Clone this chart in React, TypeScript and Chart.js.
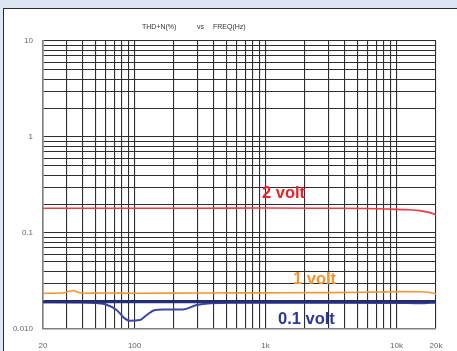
import React, { useEffect, useRef } from "react";
import { Chart, registerables } from "chart.js";

Chart.register(...registerables);

// ---- data ----
const X_TICKS = [20, 30, 40, 50, 60, 70, 80, 90, 100, 200, 300, 400, 500, 600, 700, 800, 900, 1000, 2000, 3000, 4000, 5000, 6000, 7000, 8000, 9000, 10000, 20000];
const X_LABEL_VALUES = [20, 100, 1000, 10000, 20000];
const X_LABEL_TEXT = ["20", "100", "1k", "10k", "20k"];

const Y_TICKS = [0.01, 0.02, 0.03, 0.04, 0.05, 0.06, 0.07, 0.08, 0.09, 0.1, 0.2, 0.3, 0.4, 0.5, 0.6, 0.7, 0.8, 0.9, 1, 2, 3, 4, 5, 6, 7, 8, 9, 10];
const Y_LABEL_VALUES = [0.01, 0.1, 1, 10];
const Y_LABEL_TEXT = ["0.010", "0.1", "1", "10"];

const RED_FREQ = [20, 50, 100, 300, 1000, 3000, 6000, 8400, 12000, 15000, 18000, 20000];
const RED_VAL = [0.181, 0.181, 0.181, 0.181, 0.182, 0.181, 0.18, 0.178, 0.175, 0.171, 0.163, 0.155];

const ORANGE_FREQ = [20, 28, 31, 34, 37, 42, 60, 100, 300, 1000, 3000, 6000, 10000, 15000, 18000, 20000];
const ORANGE_VAL = [0.0236, 0.0237, 0.0244, 0.0252, 0.0241, 0.0236, 0.0237, 0.0236, 0.0237, 0.0238, 0.0239, 0.0242, 0.0245, 0.0244, 0.024, 0.0233];

const NAVY_FREQ = [20, 20000];
const NAVY_VAL = [0.0191, 0.0191];

const BLUE_FREQ = [20, 40, 51, 61, 73, 84, 92, 110, 124, 143, 165, 234, 298, 535, 1000, 3000, 10000, 15000, 20000];
const BLUE_VAL = [0.019, 0.0189, 0.0186, 0.0179, 0.0158, 0.0129, 0.0122, 0.0124, 0.014, 0.0158, 0.016, 0.016, 0.0178, 0.0188, 0.0188, 0.0188, 0.0187, 0.0185, 0.0189];

const NOTE_TEXT = ["2 volt", "1 volt", "0.1 volt"];
const NOTE_FREQ = [939, 1620, 1244];
const NOTE_VAL = [0.26, 0.0332, 0.0127];
const NOTE_COLOR = ["#e8232d", "#f5922c", "#2c3895"];

const FONT = "'Liberation Sans', Arial, sans-serif";

const pts = (xs: number[], ys: number[]) => xs.map((x, i) => ({ x, y: ys[i] }));
const near = (a: number, b: number) => Math.abs(a - b) / b < 1e-6;

const framePlugin = {
  id: "frame",
  beforeDraw(chart: any) {
    const ctx = chart.ctx;
    ctx.save();
    ctx.fillStyle = "#ffffff";
    ctx.fillRect(0, 0, chart.width, chart.height);
    ctx.fillStyle = "#dce6f4";
    ctx.fillRect(0, 0, chart.width, 8);
    ctx.fillRect(0, 0, 3, chart.height);
    ctx.strokeStyle = "#2a2a2a";
    ctx.lineWidth = 1;
    ctx.beginPath();
    ctx.moveTo(3, 8.5);
    ctx.lineTo(chart.width, 8.5);
    ctx.moveTo(3.5, 8);
    ctx.lineTo(3.5, chart.height);
    ctx.stroke();
    ctx.restore();
  },
  afterDraw(chart: any) {
    const ctx = chart.ctx;
    const { left } = chart.chartArea;
    ctx.save();
    ctx.fillStyle = "#333";
    ctx.font = `7px ${FONT}`;
    ctx.textBaseline = "middle";
    ctx.textAlign = "left";
    ctx.fillText("THD+N(%)", left + 99, 27);
    ctx.fillText("vs", left + 154, 27);
    ctx.fillText("FREQ(Hz)", left + 170, 27);
    const xs = chart.scales.x;
    const ys = chart.scales.y;
    ctx.font = `bold 16.5px ${FONT}`;
    NOTE_TEXT.forEach((t, i) => {
      ctx.fillStyle = NOTE_COLOR[i];
      ctx.fillText(t, xs.getPixelForValue(NOTE_FREQ[i]), ys.getPixelForValue(NOTE_VAL[i]));
    });
    ctx.restore();
  },
};

export default function App() {
  const ref = useRef<HTMLCanvasElement | null>(null);
  useEffect(() => {
    if (!ref.current) return;
    const gridColor = "#2e2e2e";
    const chart = new Chart(ref.current, {
      type: "line",
      data: {
        datasets: [
          { data: pts(RED_FREQ, RED_VAL), borderColor: "#ee3a44", borderWidth: 1.6, pointRadius: 0, cubicInterpolationMode: "monotone" },
          { data: pts(ORANGE_FREQ, ORANGE_VAL), borderColor: "#f7962f", borderWidth: 1.6, pointRadius: 0, cubicInterpolationMode: "monotone" },
          { data: pts(NAVY_FREQ, NAVY_VAL), borderColor: "#232d88", borderWidth: 2.4, pointRadius: 0 },
          { data: pts(BLUE_FREQ, BLUE_VAL), borderColor: "#3b47a2", borderWidth: 2, pointRadius: 0, cubicInterpolationMode: "monotone" },
        ],
      },
      options: {
        animation: false,
        responsive: false,
        layout: { padding: { left: 0, right: 21, top: 41, bottom: 0 } },
        plugins: { legend: { display: false }, title: { display: false }, tooltip: { enabled: false } },
        scales: {
          x: {
            type: "logarithmic",
            min: 20,
            max: 20000,
            afterBuildTicks: (s: any) => {
              s.ticks = X_TICKS.map((v) => ({ value: v }));
            },
            afterFit: (s: any) => {
              s.height = 22;
            },
            ticks: {
              autoSkip: false,
              maxRotation: 0,
              padding: 12,
              color: "#666",
              font: { family: FONT, size: 8 },
              callback: (v: any) => {
                const i = X_LABEL_VALUES.findIndex((l) => near(Number(v), l));
                return i >= 0 ? X_LABEL_TEXT[i] : "";
              },
            },
            grid: { color: gridColor, lineWidth: 1.1, drawTicks: false },
            border: { color: "#808080", width: 1.6 },
          },
          y: {
            type: "logarithmic",
            min: 0.01,
            max: 10,
            afterBuildTicks: (s: any) => {
              s.ticks = Y_TICKS.map((v) => ({ value: v }));
            },
            afterFit: (s: any) => {
              s.width = 43;
            },
            ticks: {
              autoSkip: false,
              padding: 10,
              color: "#666",
              font: { family: FONT, size: 8 },
              callback: (v: any) => {
                const i = Y_LABEL_VALUES.findIndex((l) => near(Number(v), l));
                return i >= 0 ? Y_LABEL_TEXT[i] : "";
              },
            },
            grid: { color: gridColor, lineWidth: 1.1, drawTicks: false },
            border: { color: "#808080", width: 1.6 },
          },
        },
      } as any,
      plugins: [framePlugin],
    });
    return () => chart.destroy();
  }, []);
  return (
    <div style={{ position: "fixed", left: 0, top: 0, width: 457, height: 351, background: "#fff" }}>
      <canvas ref={ref} width={457} height={351} style={{ display: "block" }} />
    </div>
  );
}
